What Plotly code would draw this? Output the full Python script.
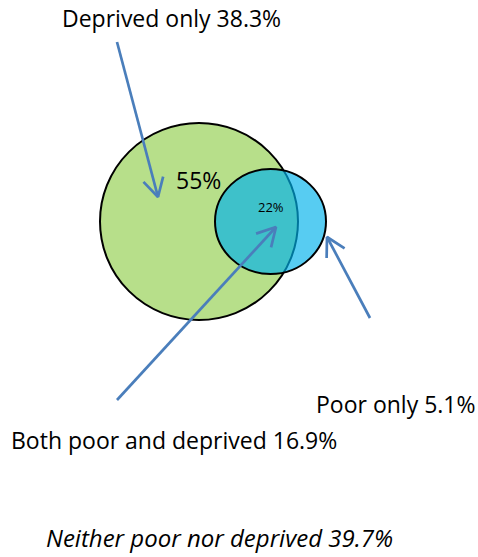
import math
import plotly.graph_objects as go

W, H = 478, 557

# Data
set_labels = ["Deprived", "Poor"]
set_percent = ["55%", "22%"]
region_labels = ["Deprived only 38.3%", "Poor only 5.1%",
                 "Both poor and deprived 16.9%", "Neither poor nor deprived 39.7%"]

# Layout geometry (pixel space)
circles = [  # cx, cy, rx, ry, fill
    (199, 221.5, 99, 98.5, "rgb(183,223,138)"),
    (270.5, 221.5, 55.5, 52.5, "rgba(0,177,235,0.66)"),
]
FONT = "Open Sans"
ARROW = "rgb(74,126,187)"
HEAD_LEN, HEAD_ANG = 21, math.radians(29)

fig = go.Figure()
fig.add_trace(go.Scatter(x=[0, W], y=[0, H], mode="markers",
                         marker=dict(opacity=0), hoverinfo="skip", showlegend=False))

for cx, cy, rx, ry, fill in circles:
    fig.add_shape(type="circle", xref="x", yref="y", layer="below",
                  x0=cx - rx, x1=cx + rx, y0=cy - ry, y1=cy + ry,
                  fillcolor=fill, line=dict(color="black", width=2))

# percentages inside circles
fig.add_annotation(x=198, y=180, text=set_percent[0], showarrow=False,
                   font=dict(family=FONT, size=23, color="black"))
fig.add_annotation(x=271, y=207, text=set_percent[1], showarrow=False,
                   font=dict(family=FONT, size=13, color="black"))

# arrows: (tail, head)
arrows = [((117, 42), (158, 197)), ((117, 400), (276, 227)), ((370, 318), (327, 237))]
for (tx, ty), (hx, hy) in arrows:
    back = math.atan2(ty - hy, tx - hx)
    a1 = (hx + HEAD_LEN * math.cos(back + HEAD_ANG), hy + HEAD_LEN * math.sin(back + HEAD_ANG))
    a2 = (hx + HEAD_LEN * math.cos(back - HEAD_ANG), hy + HEAD_LEN * math.sin(back - HEAD_ANG))
    fig.add_trace(go.Scatter(x=[tx, hx, None, a1[0], hx, a2[0]],
                             y=[ty, hy, None, a1[1], hy, a2[1]],
                             mode="lines", line=dict(color=ARROW, width=2.7),
                             hoverinfo="skip", showlegend=False))

texts = [
    (60, 18, region_labels[0], False, 23),
    (314, 404, region_labels[1], False, 23),
    (9, 440, region_labels[2], False, 23),
    (44, 537, region_labels[3], True, 24),
]
for x, y, t, it, sz in texts:
    fig.add_annotation(x=x, y=y, text=f"<i>{t}</i>" if it else t, showarrow=False,
                       xanchor="left", yanchor="middle",
                       font=dict(family=FONT, size=sz, color="black"))

fig.update_xaxes(range=[0, W], visible=False)
fig.update_yaxes(range=[H, 0], visible=False)
fig.update_layout(width=W, height=H, margin=dict(l=0, r=0, t=0, b=0),
                  plot_bgcolor="white", paper_bgcolor="white", showlegend=False)
fig.write_html("out.html")
